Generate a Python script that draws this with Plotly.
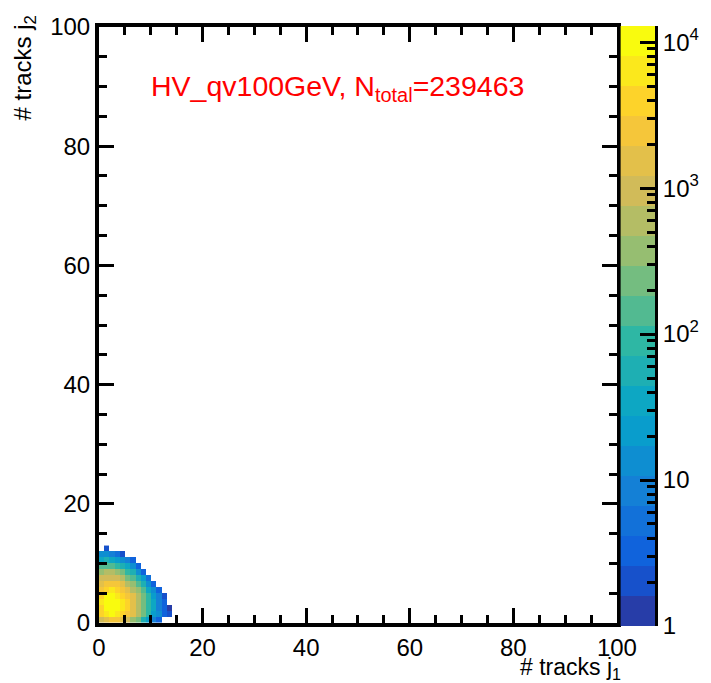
import math
import plotly.graph_objects as go

# ---------------- data ----------------
# number of tracks in jet 1 (x) and jet 2 (y): bin lower edges
j1_bins = list(range(14))
j2_bins = list(range(13))
# counts[j2][j1]
counts_row0 = [812, 1563, 2271, 1968, 1402, 803, 391, 183, 69, 27, 9, 3]
counts_row1 = [3205, 7862, 9034, 7811, 4987, 2846, 1271, 548, 219, 81, 27, 11, 4, 2]
counts_row2 = [4956, 10140, 12470, 9918, 6253, 3587, 1602, 697, 287, 98, 33, 9, 4, 1]
counts_row3 = [5088, 11160, 12620, 10070, 6381, 3495, 1566, 719, 276, 103, 31, 10, 3]
counts_row4 = [3934, 8847, 9963, 8021, 4938, 2540, 1243, 507, 196, 77, 26, 7, 2]
counts_row5 = [2537, 4968, 5074, 3942, 2489, 1271, 624, 309, 129, 41, 12, 3]
counts_row6 = [1602, 2493, 2530, 1981, 1248, 637, 321, 124, 52, 15, 4]
counts_row7 = [781, 1012, 989, 803, 497, 256, 122, 49, 19, 5]
counts_row8 = [322, 496, 508, 311, 203, 98, 51, 16, 4]
counts_row9 = [124, 161, 155, 102, 61, 33, 12, 4]
counts_row10 = [41, 49, 39, 26, 15, 8, 3]
counts_row11 = [11, 13, 9, 6, 2]
counts_row12 = [0, 2]
counts = [counts_row0, counts_row1, counts_row2, counts_row3, counts_row4,
          counts_row5, counts_row6, counts_row7, counts_row8, counts_row9,
          counts_row10, counts_row11, counts_row12]

n_total = 239463
sample_name = "HV_qv100GeV"

axis_ticks = [0, 20, 40, 60, 80, 100]
z_tick_vals = [1, 10, 100, 1000, 10000]
z_tick_text = ["1", "10", "10<sup>2</sup>", "10<sup>3</sup>", "10<sup>4</sup>"]
z_max = 12900
n_contours = 20

# ---------------- ROOT kBird palette ----------------
stops = [0.0, 0.125, 0.25, 0.375, 0.5, 0.625, 0.75, 0.875, 1.0]
red = [0.2082, 0.0592, 0.0780, 0.0232, 0.1802, 0.5301, 0.8186, 0.9956, 0.9764]
green = [0.1664, 0.3599, 0.5041, 0.6419, 0.7178, 0.7492, 0.7328, 0.7862, 0.9832]
blue = [0.5293, 0.8684, 0.8385, 0.7914, 0.6425, 0.4662, 0.3499, 0.1968, 0.0539]


def bird(f):
    for k in range(len(stops) - 1):
        if f <= stops[k + 1] or k == len(stops) - 2:
            t = (f - stops[k]) / (stops[k + 1] - stops[k])
            r = red[k] + t * (red[k + 1] - red[k])
            g = green[k] + t * (green[k + 1] - green[k])
            b = blue[k] + t * (blue[k + 1] - blue[k])
            return "rgb(%d,%d,%d)" % (round(r * 255), round(g * 255), round(b * 255))


colorscale = []
for i in range(n_contours):
    idx = int((i + 0.99) * 255 / n_contours)
    c = bird(idx / 254)
    colorscale.append([i / n_contours, c])
    colorscale.append([(i + 1) / n_contours, c])

zlog_max = math.log10(z_max)

# ---------------- geometry ----------------
W, H = 711, 683
ml, mr, mt, mb = 99, 48, 18, 57
pw = W - ml - mr
ph = H - mt - mb


def px(xp):
    return (xp - ml) / pw


def py(yp):
    return (H - mb - yp) / ph


font_family = "Liberation Sans, Arial, Helvetica, sans-serif"

# ---------------- traces ----------------
zgrid = []
for row in counts:
    r = [math.log10(v) if v > 0 else None for v in row]
    r += [None] * (len(j1_bins) - len(r))
    zgrid.append(r)

fig = go.Figure()
fig.add_trace(go.Heatmap(
    x=[b + 0.5 for b in j1_bins],
    y=[b + 0.5 for b in j2_bins],
    z=zgrid,
    colorscale=colorscale, zmin=0, zmax=zlog_max,
    showscale=False, hoverongaps=False,
    xaxis="x", yaxis="y",
))

# palette (colour bar) drawn as a heatmap on its own axis
band_edges = [zlog_max * i / n_contours for i in range(n_contours + 1)]
band_vals = [[(band_edges[i] + band_edges[i + 1]) / 2] for i in range(n_contours)]
fig.add_trace(go.Heatmap(
    x=[0, 1], y=band_edges, z=band_vals,
    colorscale=colorscale, zmin=0, zmax=zlog_max,
    showscale=False, hoverinfo="skip",
    xaxis="x2", yaxis="y2",
))

minor_z = [math.log10(k * 10 ** d) for d in range(0, 5) for k in range(2, 10)
           if k * 10 ** d < z_max]

common_axis = dict(
    showline=True, linecolor="black", linewidth=4,
    ticks="inside", ticklen=15, tickwidth=3, tickcolor="black",
    mirror="allticks", showgrid=False, zeroline=False,
    tickfont=dict(family=font_family, size=24, color="black"),
    minor=dict(dtick=5, tick0=0, ticks="inside", ticklen=8, tickwidth=3,
               tickcolor="black", showgrid=False),
)

fig.update_layout(
    width=W, height=H,
    margin=dict(l=ml, r=mr, t=mt, b=mb, pad=0),
    paper_bgcolor="white", plot_bgcolor="white",
    font=dict(family=font_family, color="black"),
    xaxis=dict(domain=[0, px(622.5)], range=[0, 100], tickvals=axis_ticks,
               anchor="y", **common_axis),
    yaxis=dict(domain=[py(623), py(19)], range=[0, 100], tickvals=axis_ticks,
               anchor="x", **common_axis),
    xaxis2=dict(domain=[px(626), px(661)], range=[0, 1], visible=False,
                anchor="y2"),
    yaxis2=dict(domain=[0, 1], range=[0, zlog_max], anchor="x2", side="right",
                showline=True, linecolor="black", linewidth=3,
                ticks="inside", ticklen=15, tickwidth=3, tickcolor="black",
                tickvals=[math.log10(v) for v in z_tick_vals], ticktext=z_tick_text,
                tickfont=dict(family=font_family, size=24, color="black"),
                showgrid=False, zeroline=False,
                minor=dict(tickmode="array", tickvals=minor_z, ticks="inside",
                           ticklen=8, tickwidth=3, tickcolor="black",
                           showgrid=False)),
    showlegend=False,
    annotations=[
        dict(text="%s, N<sub>total</sub>=%d" % (sample_name, n_total),
             xref="paper", yref="paper", x=px(150), y=py(61),
             xanchor="left", yanchor="top", showarrow=False,
             font=dict(family=font_family, size=28.5, color="#ff0000")),
        dict(text="# tracks j<sub>1</sub>",
             xref="paper", yref="paper", x=px(629), y=py(652),
             xanchor="right", yanchor="top", showarrow=False,
             font=dict(family=font_family, size=23, color="black")),
        dict(text="# tracks j<sub>2</sub>", textangle=-90,
             xref="paper", yref="paper", x=px(24), y=py(5),
             xanchor="center", yanchor="top", showarrow=False,
             font=dict(family=font_family, size=24, color="black")),
    ],
)

fig.write_html("out.html")
